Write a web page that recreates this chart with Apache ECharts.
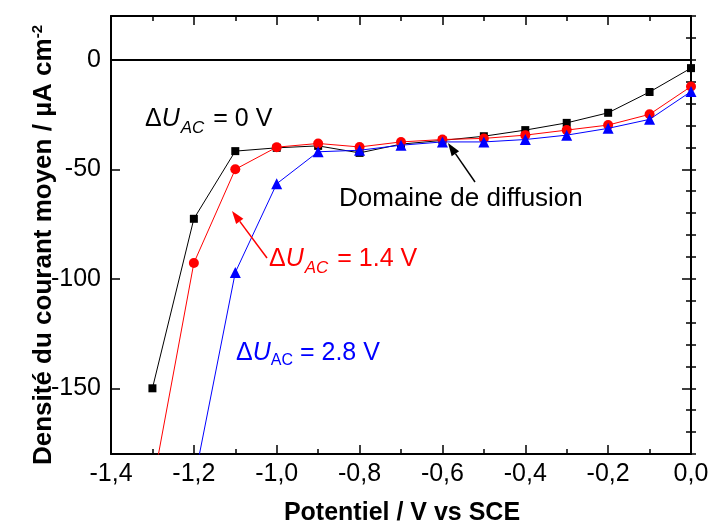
<!DOCTYPE html>
<html><head><meta charset="utf-8">
<script src="https://cdn.jsdelivr.net/npm/echarts@6/dist/echarts.min.js"></script>
<style>html,body{margin:0;padding:0;background:#fff}#c{width:712px;height:527px}</style>
</head><body><div id="c"></div>
<script>
const potentials = [-1.3,-1.2,-1.1,-1.0,-0.9,-0.8,-0.7,-0.6,-0.5,-0.4,-0.3,-0.2,-0.1,0.0];
const dU0 = [-150,-72.6,-41.7,-40.2,-39.3,-42.5,-38.5,-36.8,-34.9,-32.1,-28.8,-24.2,-14.7,-3.8];
const dU14 = [-195,-92.8,-50.0,-39.9,-38.2,-39.8,-37.5,-36.4,-35.9,-34.4,-32.1,-29.8,-24.9,-12.2];
const potentialsBlue = [-1.2,-1.1,-1.0,-0.9,-0.8,-0.7,-0.6,-0.5,-0.4,-0.3,-0.2,-0.1,0.0];
const dU28 = [-193,-97.1,-56.6,-42.0,-41.3,-39.0,-37.5,-37.5,-36.4,-34.4,-31.3,-27.2,-14.5];
const yMajorTicks = [-150,-100,-50,0];

const FF = "'Liberation Sans', Arial, sans-serif";
const pair = (xs, ys) => xs.map((x,i)=>[x, ys[i]]);
const chart = echarts.init(document.getElementById('c'), null, {renderer:'canvas'});

function arrow(x1,y1,x2,y2,color,len,w){
  const a = Math.atan2(y2-y1,x2-x1);
  const bx = x2 - len*Math.cos(a), by = y2 - len*Math.sin(a);
  const px = -Math.sin(a)*w, py = Math.cos(a)*w;
  return [
    {type:'line', shape:{x1:x1,y1:y1,x2:bx,y2:by}, style:{stroke:color, lineWidth:1.5}, z:100},
    {type:'polygon', shape:{points:[[x2,y2],[bx+px,by+py],[bx-px,by-py]]}, style:{fill:color}, z:100}
  ];
}

const xFmt = v => v.toFixed(1).replace('.', ',').replace('-0,0','0,0');
const commonX = {
  type:'value', min:-1.4, max:0, interval:0.2,
  axisLine:{show:true, onZero:false, lineStyle:{color:'#000', width:2}},
  axisTick:{show:true, inside:true, length:9, lineStyle:{color:'#000', width:1.5}},
  minorTick:{show:true, splitNumber:2, length:5, lineStyle:{color:'#000', width:1.5}},
  splitLine:{show:false}, minorSplitLine:{show:false}
};
const yBase = {type:'value', min:-180, max:20, splitLine:{show:false}};

const option = {
  animation:false,
  grid:{left:111, right:21, top:16, bottom:73, containLabel:false},
  xAxis:[
    Object.assign({}, commonX, {position:'bottom',
      axisLabel:{show:true, formatter:xFmt, fontFamily:FF, fontSize:25, color:'#000', margin:8}}),
    Object.assign({}, commonX, {position:'top', axisLabel:{show:false}})
  ],
  yAxis:[
    Object.assign({}, yBase, {position:'left',
      axisLine:{show:true, onZero:false, lineStyle:{color:'#000', width:2}},
      axisTick:{show:true, inside:true, length:9, customValues:yMajorTicks, lineStyle:{color:'#000', width:1.5}},
      axisLabel:{show:true, customValues:yMajorTicks, fontFamily:FF, fontSize:25, color:'#000', margin:10}}),
    Object.assign({}, yBase, {position:'left', interval:10,
      axisLine:{show:false},
      axisTick:{show:true, inside:true, length:5, lineStyle:{color:'#000', width:1.5}},
      axisLabel:{show:false}}),
    Object.assign({}, yBase, {position:'right',
      axisLine:{show:true, onZero:false, lineStyle:{color:'#000', width:2}},
      axisTick:{show:true, inside:true, length:9, customValues:yMajorTicks, lineStyle:{color:'#000', width:1.5}},
      axisLabel:{show:false}}),
    Object.assign({}, yBase, {position:'right', interval:10,
      axisLine:{show:false},
      axisTick:{show:true, inside:true, length:5, lineStyle:{color:'#000', width:1.5}},
      axisLabel:{show:false}})
  ],
  series:[
    {type:'line', name:'0 V', data:pair(potentials,dU0), symbol:'rect', symbolSize:8,
     lineStyle:{color:'#000', width:1}, itemStyle:{color:'#000'}, z:2,
     markLine:{silent:true, symbol:'none', label:{show:false},
       lineStyle:{color:'#000', width:2, type:'solid'}, data:[{yAxis:0}]}},
    {type:'line', name:'1.4 V', data:pair(potentials,dU14), symbol:'circle', symbolSize:10,
     lineStyle:{color:'#ff0000', width:1}, itemStyle:{color:'#ff0000'}, z:3},
    {type:'line', name:'2.8 V', data:pair(potentialsBlue,dU28), symbol:'triangle', symbolSize:11,
     lineStyle:{color:'#0000ff', width:1}, itemStyle:{color:'#0000ff'}, z:4}
  ],
  graphic:[
    {type:'text', x:402, y:513, style:{text:'Potentiel / V vs SCE', font:'bold 25px '+FF, fill:'#000', align:'center', verticalAlign:'middle'}},
    {type:'text', x:44, y:245, rotation:Math.PI/2, style:{
      text:'Densité du courant moyen / µA cm{sup|-2}', fill:'#000', align:'center', verticalAlign:'middle',
      font:'bold 26px '+FF,
      rich:{sup:{font:'bold 15px '+FF, fill:'#000', verticalAlign:'top', padding:[0,0,12,0]}}}},
    {type:'text', x:145, y:119, style:{
      text:'Δ{u|U}{s|AC} = 0 V', fill:'#000', align:'left', verticalAlign:'middle', font:'25px '+FF,
      rich:{u:{font:'italic 25px '+FF, fill:'#000'}, s:{font:'italic 17px '+FF, fill:'#000', padding:[18,2,0,1]}}}},
    {type:'text', x:339, y:199, style:{text:'Domaine de diffusion', font:'26px '+FF, fill:'#000', align:'left', verticalAlign:'middle'}},
    {type:'text', x:269, y:259, style:{
      text:'Δ{u|U}{s|AC} = 1.4 V', fill:'#ff0000', align:'left', verticalAlign:'middle', font:'25px '+FF,
      rich:{u:{font:'italic 25px '+FF, fill:'#ff0000'}, s:{font:'italic 17px '+FF, fill:'#ff0000', padding:[18,2,0,1]}}}},
    {type:'text', x:236, y:353, style:{
      text:'Δ{u|U}{s|AC} = 2.8 V', fill:'#0000ff', align:'left', verticalAlign:'middle', font:'25px '+FF,
      rich:{u:{font:'italic 25px '+FF, fill:'#0000ff'}, s:{font:'16px '+FF, fill:'#0000ff', padding:[16,0,0,0]}}}},
    ...arrow(475,182,448,143,'#000',13,4.5),
    ...arrow(267,258,232,211,'#ff0000',13,4.5)
  ]
};
chart.setOption(option);
</script>
</body></html>
